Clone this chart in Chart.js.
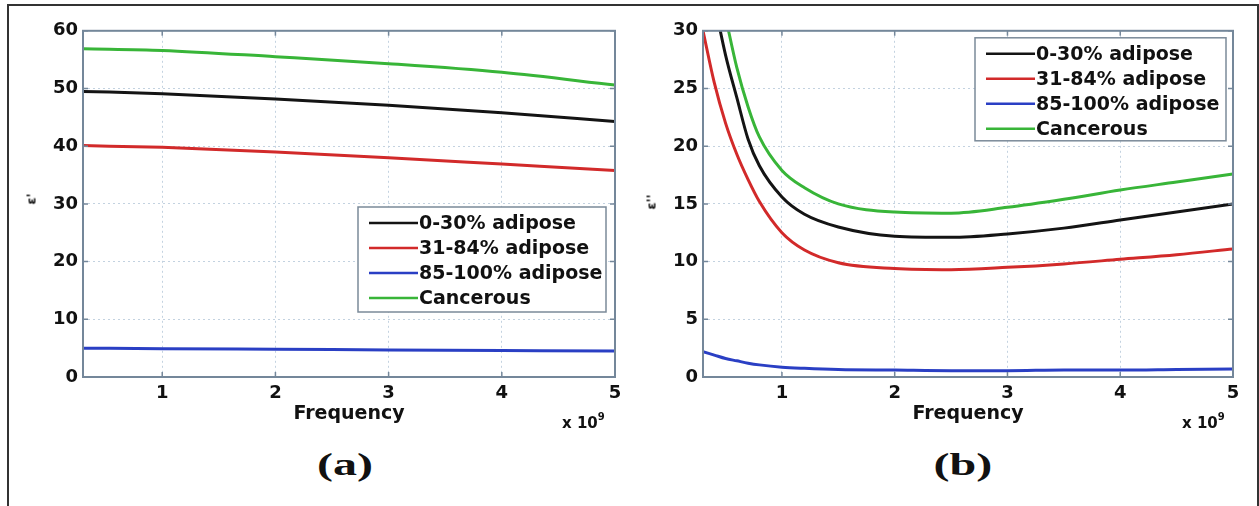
<!DOCTYPE html>
<html>
<head>
<meta charset="utf-8">
<script src="https://cdn.jsdelivr.net/npm/chart.js@4.4.1/dist/chart.umd.min.js"></script>
<style>
    body { margin: 0; background: #fff; width: 1259px; height: 506px; overflow: hidden; position: relative; font-family: "DejaVu Sans", sans-serif; }
    #frame { position: absolute; left: 7px; top: 4px; width: 1248px; height: 540px; border: 2px solid #333; }
    canvas { position: absolute; }
    #chartA { left: 20px; top: 15px; }
    #chartB { left: 640px; top: 15px; }
    .txt { position: absolute; font-weight: bold; color: #111; white-space: nowrap; }
    .exp { font-size: 15px; }
    .exp sup { font-size: 10px; position: relative; top: -2px; }
    .ytitle { font-size: 13px; transform: translate(-50%, -50%) rotate(-90deg); }
    .panel { font-family: "Liberation Serif", serif; font-size: 31px; width: 100px; text-align: center; transform: scaleX(1.55); }
</style>
</head>
<body>
<div id="frame"></div>
<canvas id="chartA" width="610" height="420"></canvas>
<canvas id="chartB" width="610" height="420"></canvas>
<div class="txt ytitle" style="left:31px; top:199px;">ε'</div>
<div class="txt ytitle" style="left:651px; top:202px;">ε''</div>
<div class="txt exp" style="left:562px; top:413px;">x 10<sup>9</sup></div>
<div class="txt exp" style="left:1182px; top:413px;">x 10<sup>9</sup></div>
<div class="txt panel" style="left:295px; top:447px;">(a)</div>
<div class="txt panel" style="left:913px; top:447px;">(b)</div>
<script>
// tick labels
const xTicks = [1, 2, 3, 4, 5];
const yTicksA = [0, 10, 20, 30, 40, 50, 60];
const yTicksB = [0, 5, 10, 15, 20, 25, 30];
const seriesLabels = ["0-30% adipose", "31-84% adipose", "85-100% adipose", "Cancerous"];

// (a) real part, frequency in units of 1e9
const freqA = [0.3, 1, 2, 3, 4, 5];
const realLow = [49.5, 49.1, 48.2, 47.1, 45.8, 44.3];
const realMid = [40.1, 39.8, 39.0, 38.0, 36.9, 35.8];
const realHigh = [5.0, 4.9, 4.8, 4.7, 4.6, 4.5];
const realCancer = [56.9, 56.6, 55.5, 54.3, 52.8, 50.6];

// (b) imaginary part
const freqB = [0.3, 0.4, 0.5, 0.6, 0.7, 0.8, 1.0, 1.2, 1.5, 2.0, 2.5, 3.0, 3.5, 4.0, 4.5, 5.0];
const imagLow = [null, 32.5, 27.9, 24.2, 20.6, 18.3, 15.6, 14.1, 13.0, 12.2, 12.1, 12.4, 12.9, 13.6, 14.3, 15.0];
const imagMid = [30.0, 25.5, 22.0, 19.3, 17.1, 15.2, 12.5, 11.0, 9.9, 9.4, 9.3, 9.5, 9.8, 10.2, 10.6, 11.1];
const imagHigh = [2.2, 1.9, 1.6, 1.4, 1.2, 1.05, 0.85, 0.75, 0.65, 0.6, 0.55, 0.55, 0.6, 0.6, 0.65, 0.7];
const imagCancer = [null, null, 31.2, 26.8, 23.4, 20.8, 17.9, 16.4, 15.0, 14.3, 14.2, 14.7, 15.4, 16.2, 16.9, 17.6];

const lineColors = ["#141414", "#d22a2a", "#2a3fc4", "#38b538"];
const tickFont = { family: "DejaVu Sans", size: 18, weight: "bold" };

function init() {
    // matlab style box around the plot, with small inward ticks
    const axesBox = {
        id: "axesBox",
        afterDatasetsDraw(chart) {
            const { ctx, chartArea: a, scales } = chart;
            ctx.save();
            ctx.strokeStyle = "#74879a";
            ctx.lineWidth = 1.5;
            scales.x.ticks.forEach(t => {
                const px = scales.x.getPixelForValue(t.value);
                ctx.beginPath();
                ctx.moveTo(px, a.bottom); ctx.lineTo(px, a.bottom - 5);
                ctx.moveTo(px, a.top); ctx.lineTo(px, a.top + 5);
                ctx.stroke();
            });
            scales.y.ticks.forEach(t => {
                const py = scales.y.getPixelForValue(t.value);
                ctx.beginPath();
                ctx.moveTo(a.left, py); ctx.lineTo(a.left + 5, py);
                ctx.moveTo(a.right, py); ctx.lineTo(a.right - 5, py);
                ctx.stroke();
            });
            ctx.lineWidth = 2;
            ctx.strokeRect(a.left, a.top, a.right - a.left, a.bottom - a.top);
            ctx.restore();
        }
    };

    // legend drawn inside the plot area
    const boxLegend = {
        id: "boxLegend",
        afterDraw(chart, args, opts) {
            const { ctx, chartArea: a } = chart;
            const x = a.right - opts.right - opts.width;
            const y = opts.top != null ? a.top + opts.top : a.bottom - opts.bottom - opts.height;
            ctx.save();
            ctx.fillStyle = "#fff";
            ctx.fillRect(x, y, opts.width, opts.height);
            ctx.strokeStyle = "#7b8a99";
            ctx.lineWidth = 1.5;
            ctx.strokeRect(x, y, opts.width, opts.height);
            ctx.font = 'bold 19px "DejaVu Sans"';
            ctx.textBaseline = "middle";
            chart.data.datasets.forEach((ds, i) => {
                const rowY = y + 16 + i * 25;
                ctx.strokeStyle = ds.borderColor;
                ctx.lineWidth = 2.5;
                ctx.beginPath();
                ctx.moveTo(x + 11, rowY);
                ctx.lineTo(x + 60, rowY);
                ctx.stroke();
                ctx.fillStyle = "#111";
                ctx.fillText(ds.label, x + 61, rowY + 1);
            });
            ctx.restore();
        }
    };

    function makeDatasets(freq, lists) {
        return lists.map((vals, i) => ({
            label: seriesLabels[i],
            data: freq.map((f, j) => ({ x: f, y: vals[j] })),
            borderColor: lineColors[i],
            borderWidth: 3,
            pointRadius: 0,
            cubicInterpolationMode: "monotone",
            spanGaps: false
        }));
    }

    function makeChart(canvas, freq, lists, yTicks, yMax, pad, legendOpts) {
        return new Chart(canvas, {
            type: "line",
            data: { datasets: makeDatasets(freq, lists) },
            plugins: [axesBox, boxLegend],
            options: {
                responsive: false,
                animation: false,
                layout: { padding: pad },
                plugins: {
                    legend: { display: false },
                    tooltip: { enabled: false },
                    boxLegend: legendOpts
                },
                scales: {
                    x: {
                        type: "linear",
                        min: 0.3,
                        max: 5,
                        afterBuildTicks: s => { s.ticks = xTicks.map(v => ({ value: v })); },
                        afterFit: s => { s.height = 48; },
                        grid: { color: "#c3d2e0", lineWidth: 1, drawTicks: false },
                        border: { display: false, dash: [2, 3] },
                        ticks: { color: "#111", font: tickFont, padding: 6, maxRotation: 0 },
                        title: {
                            display: true,
                            text: "Frequency",
                            color: "#111",
                            font: { family: "DejaVu Sans", size: 19, weight: "bold" },
                            padding: { top: 0, bottom: 0 }
                        }
                    },
                    y: {
                        min: 0,
                        max: yMax,
                        afterBuildTicks: s => { s.ticks = yTicks.map(v => ({ value: v })); },
                        afterFit: s => { s.width = 40; },
                        grid: { color: "#c3d2e0", lineWidth: 1, drawTicks: false },
                        border: { display: false, dash: [2, 3] },
                        ticks: { color: "#111", font: tickFont, padding: 5 }
                    }
                }
            }
        });
    }

    makeChart(document.getElementById("chartA"), freqA,
        [realLow, realMid, realHigh, realCancer], yTicksA, 60,
        { left: 23, right: 15, top: 12, bottom: 10 },
        { right: 9, bottom: 65, width: 248, height: 105 });

    makeChart(document.getElementById("chartB"), freqB,
        [imagLow, imagMid, imagHigh, imagCancer], yTicksB, 30,
        { left: 23, right: 17, top: 15, bottom: 10 },
        { right: 7, top: 7, width: 251, height: 103 });
}

document.addEventListener("DOMContentLoaded", init);
</script>
</body>
</html>
